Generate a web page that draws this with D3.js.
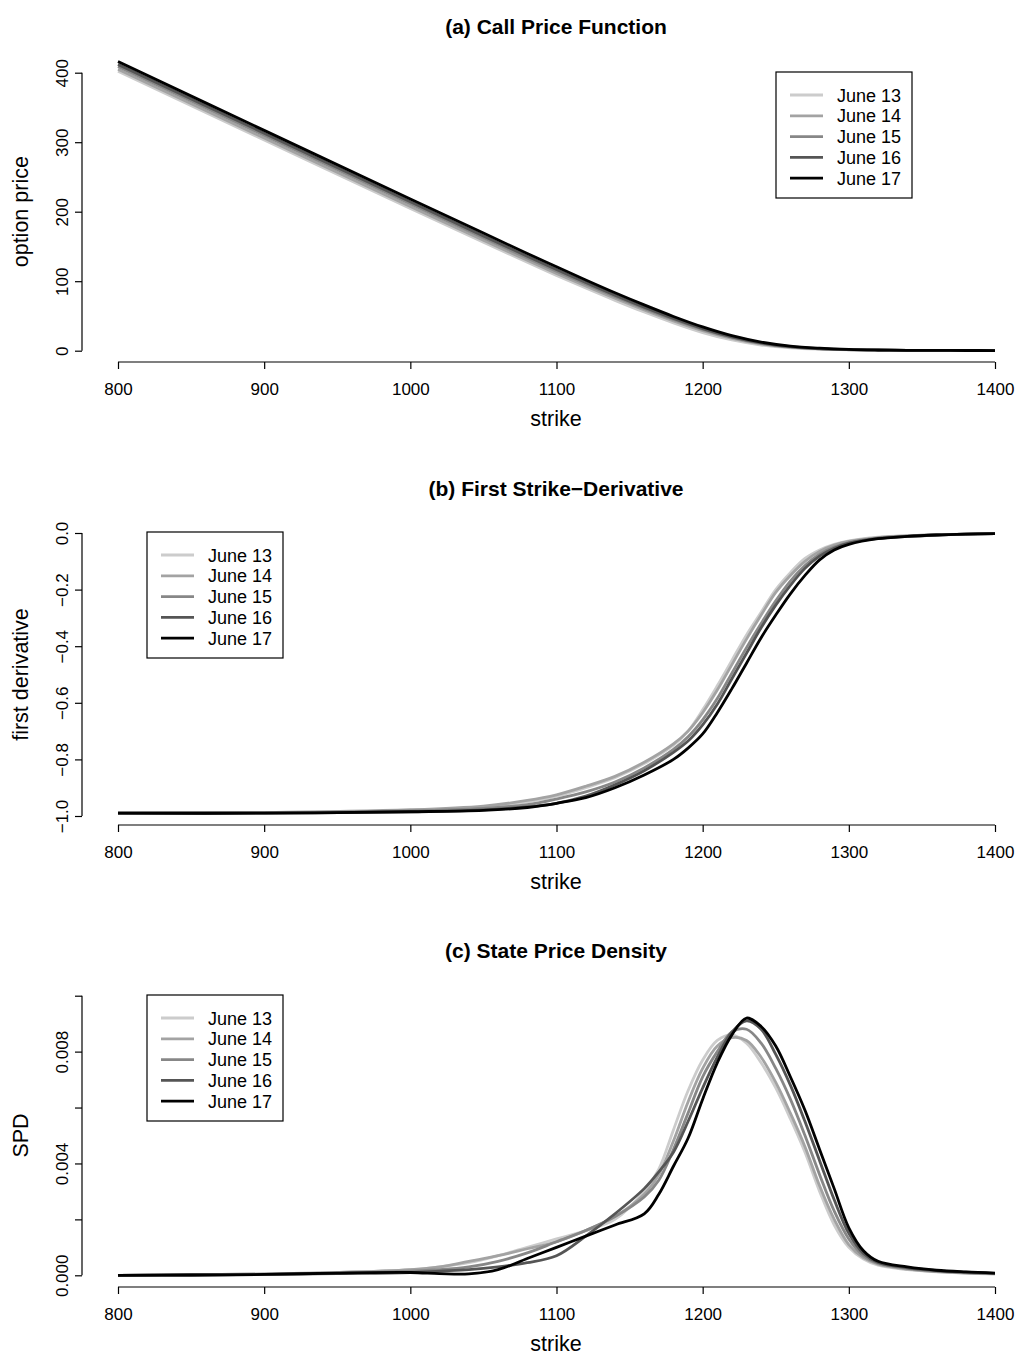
<!DOCTYPE html>
<html>
<head>
<meta charset="utf-8">
<script src="https://cdn.jsdelivr.net/npm/d3@7"></script>
<style>
  body { margin: 0; background: #fff; }
  svg text { font-family: "Liberation Sans", Arial, Helvetica, sans-serif; fill: #000; }
</style>
</head>
<body>
<div id="chart"></div>
<script>
// Series labels
let dates = ['June 13', 'June 14', 'June 15', 'June 16', 'June 17']

// (a) call price function
let strikesA = [800, 900, 1000, 1050, 1080, 1100, 1120, 1140, 1160, 1180, 1200, 1220, 1240, 1260, 1280, 1300, 1320, 1340, 1360, 1380, 1400]
let callPrices = [
  [402, 303.1, 204.7, 156, 127.2, 108.4, 90.1, 72.4, 55.6, 40, 26.1, 15.4, 8.2, 4.1, 2.2, 1.3, 0.9, 0.6, 0.4, 0.3, 0.2],
  [405, 306, 207.5, 158.8, 130, 111.3, 93, 75.4, 58.7, 43, 29, 17.8, 9.8, 5, 2.5, 1.4, 0.9, 0.6, 0.4, 0.3, 0.2],
  [409, 310, 211.3, 162.4, 133.4, 114.4, 95.9, 78, 60.9, 45, 30.8, 19.2, 10.6, 5.4, 2.7, 1.5, 0.9, 0.6, 0.4, 0.3, 0.2],
  [412, 313, 214.3, 165.2, 136, 116.8, 98, 79.8, 62.5, 46.3, 31.8, 19.9, 11.2, 5.8, 3, 1.6, 0.9, 0.6, 0.4, 0.3, 0.2],
  [416, 317, 218.3, 169.2, 139.9, 120.7, 101.8, 83.4, 65.9, 49.3, 34.2, 21.6, 12.4, 6.6, 3.6, 1.8, 1.0, 0.6, 0.4, 0.3, 0.2]
]

// (b) first strike-derivative
let strikesB = [800, 900, 1000, 1050, 1080, 1100, 1120, 1140, 1160, 1180, 1190, 1200, 1210, 1220, 1230, 1240, 1250, 1260, 1270, 1280, 1290, 1300, 1320, 1340, 1360, 1380, 1400]
let firstDerivs = [
  [-0.99, -0.988, -0.98, -0.97, -0.95, -0.93, -0.9, -0.865, -0.815, -0.75, -0.7, -0.625, -0.54, -0.45, -0.36, -0.28, -0.2, -0.14, -0.09, -0.06, -0.04, -0.028, -0.015, -0.009, -0.006, -0.004, -0.002],
  [-0.99, -0.988, -0.978, -0.965, -0.945, -0.925, -0.895, -0.86, -0.81, -0.745, -0.7, -0.635, -0.555, -0.465, -0.375, -0.29, -0.21, -0.15, -0.1, -0.065, -0.043, -0.03, -0.016, -0.01, -0.006, -0.004, -0.002],
  [-0.99, -0.989, -0.982, -0.973, -0.96, -0.94, -0.915, -0.88, -0.83, -0.765, -0.72, -0.66, -0.585, -0.495, -0.405, -0.32, -0.24, -0.17, -0.115, -0.075, -0.05, -0.034, -0.018, -0.011, -0.007, -0.004, -0.002],
  [-0.99, -0.99, -0.985, -0.978, -0.968, -0.955, -0.93, -0.89, -0.84, -0.775, -0.735, -0.678, -0.605, -0.515, -0.425, -0.335, -0.255, -0.185, -0.125, -0.082, -0.054, -0.036, -0.019, -0.012, -0.007, -0.004, -0.002],
  [-0.99, -0.99, -0.985, -0.98, -0.97, -0.955, -0.935, -0.9, -0.855, -0.8, -0.76, -0.71, -0.635, -0.55, -0.46, -0.37, -0.29, -0.215, -0.15, -0.095, -0.06, -0.04, -0.02, -0.012, -0.007, -0.004, -0.002]
]

// (c) state price density
let strikesC = [800, 850, 900, 950, 1000, 1020, 1040, 1060, 1080, 1100, 1120, 1140, 1160, 1170, 1180, 1190, 1200, 1210, 1220, 1230, 1240, 1250, 1260, 1270, 1280, 1290, 1300, 1310, 1320, 1340, 1360, 1380, 1400]
let spdValues = [
  [0, 0.00002, 0.00005, 0.0001, 0.0002, 0.0003, 0.00045, 0.0007, 0.001, 0.0013, 0.0016, 0.002, 0.003, 0.0038, 0.0052, 0.0066, 0.0077, 0.0084, 0.0086, 0.0083, 0.0076, 0.0067, 0.0056, 0.0044, 0.003, 0.0018, 0.001, 0.00058, 0.00036, 0.0002, 0.00012, 0.00008, 0.00005],
  [0, 0.00002, 0.00005, 0.0001, 0.0002, 0.0003, 0.0005, 0.0007, 0.00095, 0.0012, 0.0016, 0.0021, 0.0029, 0.0036, 0.0048, 0.0062, 0.0074, 0.0082, 0.0085, 0.0084, 0.0078, 0.0069, 0.0058, 0.0046, 0.0032, 0.002, 0.0011, 0.00063, 0.0004, 0.00022, 0.00013, 0.00008, 0.00005],
  [0, 0.00001, 0.00003, 0.00007, 0.00015, 0.0002, 0.0003, 0.0005, 0.0008, 0.0012, 0.0016, 0.0021, 0.0028, 0.0034, 0.0045, 0.0058, 0.0071, 0.008, 0.0087, 0.0088, 0.0083, 0.0074, 0.0063, 0.005, 0.0036, 0.0023, 0.0013, 0.0007, 0.00043, 0.00025, 0.00015, 0.0001, 0.00006],
  [0, 0.00001, 0.00003, 0.00006, 0.0001, 0.00015, 0.0002, 0.0003, 0.00045, 0.0007, 0.0014, 0.0022, 0.0031, 0.0037, 0.0044, 0.0055, 0.0067, 0.0078, 0.0087, 0.0091, 0.0088, 0.0079, 0.0068, 0.0055, 0.0041, 0.0027, 0.0015, 0.00078, 0.00046, 0.00027, 0.00017, 0.00011, 0.00007],
  [0, 0.00001, 0.00003, 0.00008, 0.0001, 0.00006, 0.00005, 0.0002, 0.0006, 0.001, 0.0014, 0.0018, 0.0022, 0.0029, 0.0039, 0.0049, 0.0063, 0.0076, 0.0086, 0.0092, 0.0089, 0.0082, 0.0071, 0.0059, 0.0045, 0.0031, 0.0017, 0.00088, 0.0005, 0.0003, 0.00018, 0.00012, 0.00008]
]

let xTicks = [800, 900, 1000, 1100, 1200, 1300, 1400]
let callTicks = [0, 100, 200, 300, 400]
let derivTicks = [-1.0, -0.8, -0.6, -0.4, -0.2, 0.0]
let spdTicks = [0, 0.002, 0.004, 0.006, 0.008, 0.010]
let spdTickLabels = ['0.000', '', '0.004', '', '0.008', '']

let grays = ['#cccccc', '#a3a3a3', '#878787', '#555555', '#000000']

let width = 1019, height = 1356
let svg = d3.select('#chart').append('svg')
  .attr('width', width)
  .attr('height', height)

let axisX = 82   // left y-axis position
let x = d3.scaleLinear().domain([800, 1400]).range([118, 995])

let panels = [
  { title: '(a) Call Price Function', ylab: 'option price', strikes: strikesA, series: callPrices,
    y: d3.scaleLinear().domain([0, 400]).range([350.7, 72.7]),
    ticks: callTicks, tickLabels: callTicks.map(String),
    titleY: 34, xAxisY: 362, legend: { x: 776, y: 72 } },
  { title: '(b) First Strike\u2212Derivative', ylab: 'first derivative', strikes: strikesB, series: firstDerivs,
    y: d3.scaleLinear().domain([-1, 0]).range([816, 533]),
    ticks: derivTicks, tickLabels: derivTicks.map(d => d3.format('.1f')(d).replace('-', '\u2212')),
    titleY: 496, xAxisY: 825, legend: { x: 147, y: 532 } },
  { title: '(c) State Price Density', ylab: 'SPD', strikes: strikesC, series: spdValues,
    y: d3.scaleLinear().domain([0, 0.010]).range([1275.3, 995.7]),
    ticks: spdTicks, tickLabels: spdTickLabels,
    titleY: 958, xAxisY: 1287, legend: { x: 147, y: 995 } }
]

panels.forEach(p => {
  let g = svg.append('g')

  // title
  g.append('text')
    .attr('x', 556).attr('y', p.titleY)
    .attr('text-anchor', 'middle')
    .style('font-size', '21px').style('font-weight', 'bold')
    .text(p.title)

  // curves, lightest first so June 17 ends on top
  let line = d3.line()
    .x((d, i) => x(p.strikes[i]))
    .y(d => p.y(d))
    .curve(d3.curveCatmullRom.alpha(0.5))

  p.series.forEach((s, i) => {
    g.append('path')
      .attr('d', line(s))
      .attr('fill', 'none')
      .attr('stroke', grays[i])
      .attr('stroke-width', 2.8)
      .attr('stroke-linejoin', 'round')
  })

  // x axis
  let xAxis = d3.axisBottom(x).tickValues(xTicks).tickSize(7).tickPadding(14).tickFormat(d3.format('d'))
  let gx = g.append('g').attr('transform', `translate(0,${p.xAxisY})`).call(xAxis)
  gx.select('.domain').attr('d', `M${x(800)},0H${x(1400)}`).attr('stroke-width', 1.2)
  gx.selectAll('.tick line').attr('stroke-width', 1.2)
  gx.selectAll('.tick text')
    .style('font-size', '17px')
    .style('font-family', '"Liberation Sans", Arial, sans-serif')

  g.append('text')
    .attr('x', 556).attr('y', p.xAxisY + 64)
    .attr('text-anchor', 'middle')
    .style('font-size', '21.5px')
    .text('strike')

  // y axis, labels parallel to the axis
  let yAxis = d3.axisLeft(p.y).tickValues(p.ticks).tickSize(7).tickFormat((d, i) => p.tickLabels[i])
  let gy = g.append('g').attr('transform', `translate(${axisX},0)`).call(yAxis)
  let yr = d3.extent(p.ticks).map(p.y)
  gy.select('.domain').attr('d', `M0,${yr[0]}V${yr[1]}`).attr('stroke-width', 1.2)
  gy.selectAll('.tick line').attr('stroke-width', 1.2)
  gy.selectAll('.tick text')
    .attr('x', 0).attr('y', 0).attr('dy', 0)
    .attr('text-anchor', 'middle')
    .attr('transform', 'translate(-14,0) rotate(-90)')
    .style('font-size', '17px')
    .style('font-family', '"Liberation Sans", Arial, sans-serif')

  g.append('text')
    .attr('transform', `translate(28,${(yr[0] + yr[1]) / 2}) rotate(-90)`)
    .attr('text-anchor', 'middle')
    .style('font-size', '21.5px')
    .text(p.ylab)

  // legend
  let lg = g.append('g').attr('transform', `translate(${p.legend.x},${p.legend.y})`)
  lg.append('rect')
    .attr('width', 136).attr('height', 126)
    .attr('fill', '#fff').attr('stroke', '#000').attr('stroke-width', 1.2)
  dates.forEach((d, i) => {
    let ly = 23 + i * 20.8
    lg.append('line')
      .attr('x1', 14).attr('x2', 47).attr('y1', ly).attr('y2', ly)
      .attr('stroke', grays[i]).attr('stroke-width', 2.8)
    lg.append('text')
      .attr('x', 61).attr('y', ly + 6.5)
      .style('font-size', '18px')
      .text(d)
  })
})
</script>
</body>
</html>
